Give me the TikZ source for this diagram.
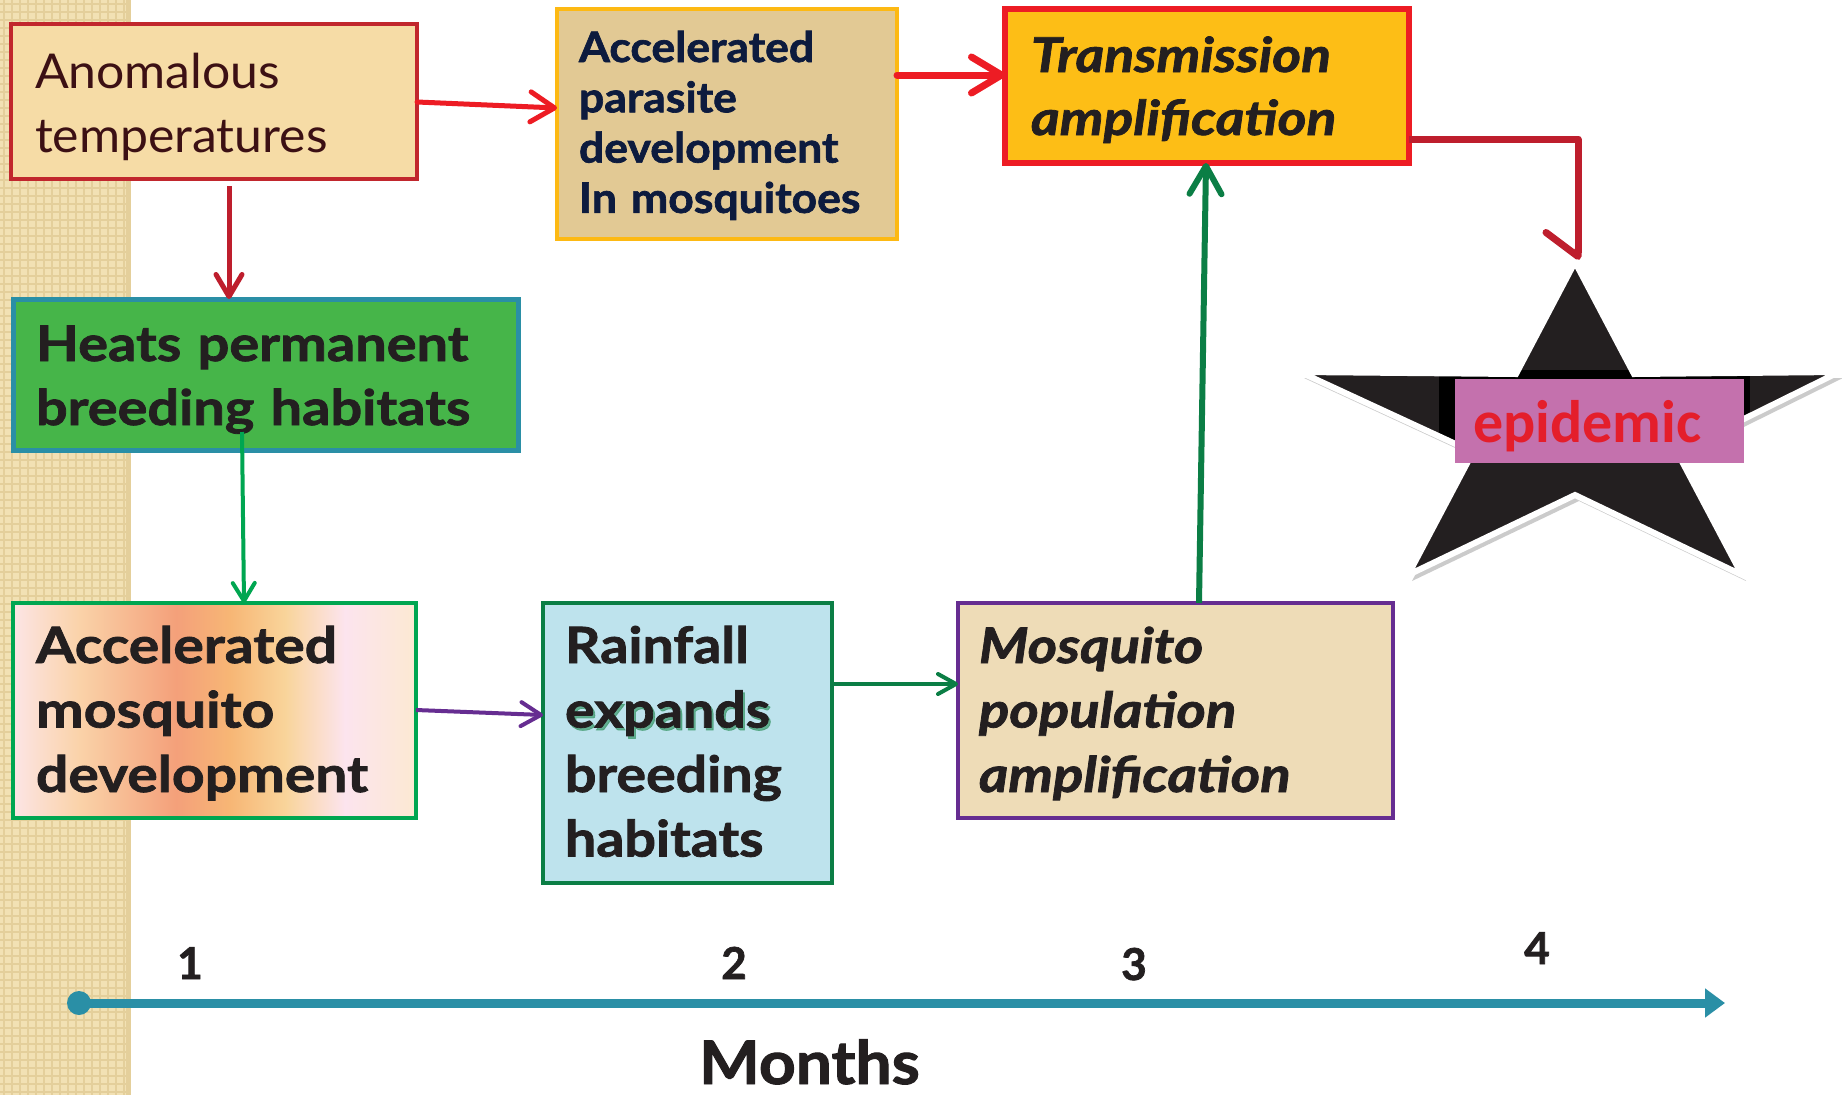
\documentclass[tikz,border=0pt]{standalone}
\usepackage{fontspec}
\setmainfont{Lato}
\newfontfamily\calib{Carlito}
\usetikzlibrary{arrows.meta,calc}
\definecolor{stripc}{HTML}{F2E1B4}
\definecolor{stripl}{HTML}{E4CF9B}
\definecolor{pap1}{HTML}{F6DCA6}
\definecolor{pap2}{HTML}{E2C994}
\definecolor{pap3}{HTML}{EEDCB7}
\definecolor{gold}{HTML}{FDBE16}
\definecolor{amber}{HTML}{FDB913}
\definecolor{brred}{HTML}{ED1C24}
\definecolor{dkred}{HTML}{BE1E2D}
\definecolor{boxred}{HTML}{C1272D}
\definecolor{leaf}{HTML}{46B549}
\definecolor{tealc}{HTML}{2A8FA6}
\definecolor{brgreen}{HTML}{00A651}
\definecolor{dkgreen}{HTML}{0B7E45}
\definecolor{purp}{HTML}{662D91}
\definecolor{aqua}{HTML}{BEE3ED}
\definecolor{ink}{HTML}{231F20}
\definecolor{maroon}{HTML}{3C1014}
\definecolor{navy}{HTML}{0D1B3E}
\definecolor{pinkbg}{HTML}{C471AD}
\definecolor{epired}{HTML}{E41E2B}
\definecolor{ga}{HTML}{FCE5E5}
\definecolor{gb}{HTML}{FAD2A8}
\definecolor{gc}{HTML}{F4A07A}
\definecolor{gd}{HTML}{F7B675}
\definecolor{ge}{HTML}{F9D49A}
\definecolor{gf}{HTML}{FCE4EE}
\definecolor{gg}{HTML}{FCE9D2}
\newcommand{\heavy}[1]{\addfontfeatures{FakeStretch=#1, FakeBold=1.6}}
\begin{document}
\begin{tikzpicture}[x=1pt,y=-1pt,
  box/.style={rectangle, anchor=north west, inner sep=0pt, outer sep=0pt},
  txt/.style={anchor=base west, inner sep=0pt, outer sep=0pt, align=left, text width=600pt},
  num/.style={anchor=base, inner sep=0pt, font=\fontsize{44}{50}\selectfont\bfseries\heavy{1.0}, text=ink},
  boldtxt/.style={txt, text=ink, font=\fontsize{50}{64.5}\selectfont\bfseries\heavy{1.14}}
]
\useasboundingbox (0,0) rectangle (1842,1095);
\fill[white] (0,0) rectangle (1842,1095);
% textured strip
\fill[stripc] (0,0) rectangle (130,1095);
\foreach \x in {4,12,...,124} \draw[stripl, line width=1.2] (\x,0) -- (\x,1095);
\foreach \y in {4,12,...,1092} \draw[stripl, line width=1.2] (0,\y) -- (130,\y);
\fill[stripl] (126,0) rectangle (131,1095);

% boxes
\node[box, fill=pap1, draw=boxred, line width=4, minimum width=406, minimum height=155] (b1) at (11,24) {};
\node[box, fill=pap2, draw=amber, line width=4, minimum width=340, minimum height=230] (b2) at (557,9) {};
\node[box, fill=gold, draw=brred, line width=6, minimum width=404, minimum height=154] (b3) at (1005,9) {};
\node[box, fill=leaf, draw=tealc, line width=5, minimum width=505, minimum height=151] (b4) at (13,299) {};
\node[box, minimum width=403, minimum height=215] (b5) at (13,603) {};
\shade[left color=ga, right color=gb] (13,603) rectangle (80,818);
\shade[left color=gb, right color=gc] (80,603) rectangle (176,818);
\shade[left color=gc, right color=gd] (176,603) rectangle (230,818);
\shade[left color=gd, right color=ge] (230,603) rectangle (285,818);
\shade[left color=ge, right color=gf] (285,603) rectangle (345,818);
\shade[left color=gf, right color=gg] (345,603) rectangle (416,818);
\draw[brgreen, line width=4] (b5.north west) rectangle (b5.south east);
\node[box, fill=aqua, draw=dkgreen, line width=4, minimum width=289, minimum height=280] (b6) at (543,603) {};
\node[box, fill=pap3, draw=purp, line width=4, minimum width=435, minimum height=215] (b7) at (958,603) {};

% texts
\node[txt, text=maroon, font=\fontsize{48}{64}\selectfont\addfontfeatures{FakeStretch=1.04}] (b1t) at (35,88) {Anomalous\\temperatures};
\node[txt, text=navy, font=\fontsize{42}{50.3}\selectfont\bfseries\heavy{1.06}] (b2t) at (579,62) {Accelerated\\parasite\\development\\In mosquitoes};
\node[txt, text=ink, font=\fontsize{48}{63}\selectfont\bfseries\itshape\heavy{1.15}] (b3t) at (1031,72) {Transmission\\amplification};
\node[txt, text=ink, font=\fontsize{49}{64}\selectfont\bfseries\heavy{1.14}] (b4t) at (36,361) {Heats permanent\\breeding habitats};
\node[boldtxt] (b5t) at (36,663) {Accelerated\\mosquito\\development};
\node[txt, text=dkgreen!80, opacity=0.7, font=\fontsize{50}{64}\selectfont\bfseries\heavy{1.11}] (b6g) at (567,730) {expands};
\node[boldtxt, font=\fontsize{50}{64.5}\selectfont\bfseries\heavy{1.11}] (b6t) at (565,663) {Rainfall\\expands\\breeding\\habitats};
\node[txt, text=ink, font=\fontsize{49}{64.5}\selectfont\bfseries\itshape\heavy{1.15}] (b7t) at (979,663) {Mosquito\\population\\amplification};

% star
\fill[black!40, opacity=0.5] (1579,268) -- (1638,380) -- (1843,378) -- (1681,458) -- (1746,581) -- (1579,501) -- (1412,581) -- (1477,458) -- (1304,378) -- (1520,380) -- cycle;
\fill[ink] (1575,262) -- (1634,374) -- (1839,372) -- (1677,452) -- (1742,575) -- (1575,495) -- (1408,575) -- (1473,452) -- (1300,372) -- (1516,374) -- cycle;
\begin{scope}
\clip (1575,262) -- (1634,374) -- (1839,372) -- (1677,452) -- (1742,575) -- (1575,495) -- (1408,575) -- (1473,452) -- (1300,372) -- (1516,374) -- cycle;
\fill[black] (1439,370) rectangle (1750,455);
\end{scope}
\draw[white, line width=6, line join=miter] (1575,262) -- (1634,374) -- (1839,372) -- (1677,452) -- (1742,575) -- (1575,495) -- (1408,575) -- (1473,452) -- (1300,372) -- (1516,374) -- cycle;
\coordinate (startop) at (1578,260);
\node[box, fill=pinkbg, minimum width=289, minimum height=84] (epibox) at (1455,379) {};
\node[txt, text=epired, font=\fontsize{60}{66}\selectfont\calib\bfseries] (epi) at (1473,442) {epidemic};

% connectors
\draw[brred, line width=5, line cap=round, -{Straight Barb[round, length=24pt, width=30pt]}]
  ($(b1.north east)+(0,78)$) -- ($(b2.north west)+(0,99)$);
\draw[brred, line width=7, line cap=round, -{Straight Barb[round, length=30pt, width=36pt]}]
  ($(b2.north east)+(0,66)$) -- ($(b3.north west)+(0,66)$);
\draw[dkred, line width=5, -{Straight Barb[round, length=22pt, width=26pt]}]
  ($(b1.south west)+(218,7)$) -- ($(b4.north west)+(216,0)$);
\draw[brgreen, line width=4, -{Straight Barb[round, length=18pt, width=22pt]}]
  ($(b4.north west)+(229,133)$) -- ($(b5.north west)+(231,0)$);
\draw[purp, line width=4, -{Straight Barb[round, length=20pt, width=24pt]}]
  ($(b5.north east)+(0,107)$) -- ($(b6.north west)+(0,112)$);
\draw[dkgreen, line width=4, -{Straight Barb[round, length=18pt, width=20pt]}]
  ($(b6.north east)+(0,81)$) -- ($(b7.north west)+(0,81)$);
\draw[dkgreen, line width=6, -{Straight Barb[round, length=28pt, width=32pt]}]
  ($(b7.north west)+(241,0)$) -- ($(b3.south west)+(201,0)$);
\draw[dkred, line width=7, line join=round, -{Straight Barb[round, harpoon, swap, length=24pt, width=64pt]}]
  ($(b3.north east)+(0,130)$) -| (startop);

% timeline
\node[circle, fill=tealc, minimum size=24, inner sep=0pt] (t0) at (79,1003) {};
\coordinate (tend) at (1725,1003);
\draw[tealc, line width=9, -{Triangle[length=20pt, width=28pt]}] (t0.center) -- (tend);
\node[num] (n1) at (190,979) {1};
\node[num] (n2) at (734,979) {2};
\node[num] (n3) at (1134,980) {3};
\node[num] (n4) at (1537,964) {4};
\node[anchor=base west, inner sep=0pt, text=ink, font=\fontsize{60}{70}\selectfont\bfseries\heavy{1.07}] (months) at (699,1084) {Months};
\end{tikzpicture}
\end{document}
